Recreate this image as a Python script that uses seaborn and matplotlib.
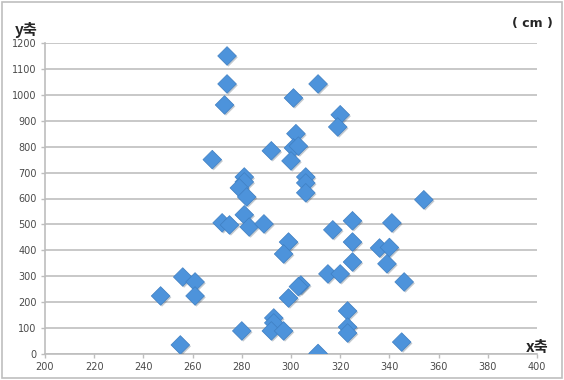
import matplotlib
matplotlib.use("Agg")
import matplotlib.pyplot as plt
import matplotlib.patheffects as pe
from matplotlib.patches import Rectangle
import seaborn as sns
import pandas as pd

x_vals = [274, 274, 273, 311, 301, 302, 320, 319, 292, 301, 303, 300, 268,
          281, 281, 279, 282, 306, 306, 306, 354, 281, 272, 275, 283, 289,
          325, 341, 317, 299, 325, 336, 340, 297, 339, 325, 256, 261, 247,
          261, 315, 320, 304, 303, 346, 299, 323, 323, 323, 293, 293, 292,
          297, 280, 255, 311, 345]
y_vals = [1150, 1042, 961, 1042, 988, 850, 923, 876, 784, 795, 802, 745, 750,
          683, 664, 641, 606, 683, 660, 622, 595, 537, 506, 498, 490, 502,
          514, 506, 479, 432, 432, 409, 411, 386, 348, 355, 297, 278, 224,
          224, 309, 309, 266, 260, 278, 216, 166, 104, 81, 139, 120, 89,
          89, 89, 35, 2, 46]
x_ticks = list(range(200, 401, 20))
y_ticks = list(range(0, 1201, 100))

df = pd.DataFrame({"x": x_vals, "y": y_vals})

sns.set_theme(style="white")
plt.rcParams['font.family'] = ['DejaVu Sans']

fig = plt.figure(figsize=(5.64, 3.80), dpi=100)
ax = fig.add_axes([45 / 564, 1 - 354 / 380, (537 - 45) / 564, (354 - 43) / 380])

sns.scatterplot(data=df, x="x", y="y", ax=ax, marker="D", s=90,
                color="#4d93db", edgecolor="#3f7fc2", linewidth=0.5,
                zorder=3,
                path_effects=[pe.SimplePatchShadow(offset=(1.0, -1.0), alpha=0.25),
                              pe.Normal()])

ax.set_xlim(200, 400)
ax.set_ylim(0, 1200)
ax.set_xticks(x_ticks)
ax.set_yticks(y_ticks)
ax.set_xlabel("")
ax.set_ylabel("")
ax.yaxis.grid(True, color="#c4c4c4", linewidth=1.3)
ax.xaxis.grid(False)
ax.set_axisbelow(True)
for side in ["top", "right"]:
    ax.spines[side].set_visible(False)
for side in ["left", "bottom"]:
    ax.spines[side].set_color("#bdbdbd")
    ax.spines[side].set_linewidth(1.2)
ax.tick_params(axis="both", which="major", length=3, width=1, color="#bdbdbd",
               labelsize=7, labelcolor="#4a4a4a", pad=3, direction="out",
               bottom=True, left=True)

kfont = ['Noto Sans CJK KR', 'DejaVu Sans']
fig.text(15 / 564, 1 - 30 / 380, "y축", fontsize=11, fontweight="bold",
         family=kfont, color="#262626", ha="left", va="center")
fig.text(526 / 564, 1 - 347 / 380, "x축", fontsize=11, fontweight="bold",
         family=kfont, color="#262626", ha="left", va="center")
fig.text(553 / 564, 1 - 23 / 380, "( cm )", fontsize=9, fontweight="bold",
         color="#262626", ha="right", va="center")

fig.patches.append(Rectangle((2 / 564, 2 / 380), 1 - 4 / 564, 1 - 4 / 380,
                             transform=fig.transFigure, fill=False,
                             edgecolor="#bfbfbf", linewidth=1.2))

fig.savefig("out.png", dpi=100)
